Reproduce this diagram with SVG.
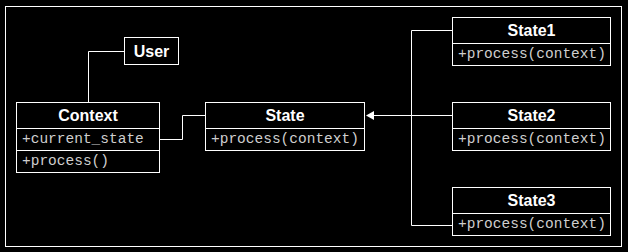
<svg xmlns="http://www.w3.org/2000/svg" width="628" height="252" viewBox="0 0 628 252">
  <style>
    .box { fill: #000; stroke: #fff; stroke-width: 1; }
    .div { stroke: #fff; stroke-width: 1; }
    .title { font-family: "Liberation Sans", Arial, sans-serif; font-weight: bold; font-size: 16px; fill: #fff; text-anchor: middle; }
    .member { font-family: "Liberation Mono", "Courier New", monospace; font-size: 14.5px; fill: #cfcfcf; }
    .wire { fill: none; stroke: #fff; stroke-width: 1; }
  </style>
  <rect x="0" y="0" width="628" height="252" fill="#000"/>
  <rect x="5.5" y="6.5" width="616" height="240" fill="none" stroke="#fff" stroke-width="1"/>

  <g id="connectors">
    <path class="wire" d="M88.5 102 V51.5 H124"/>
    <path class="wire" d="M159 139.5 H182.5 V115.5 H205"/>
    <path class="wire" d="M452 30.5 H411.5 V225.5 H452"/>
    <path class="wire" d="M452 115.5 H373"/>
    <polygon points="366,115.5 374,111 374,120" fill="#fff"/>
  </g>

  <g id="user">
    <rect class="box" x="124.5" y="37.5" width="54" height="27"/>
    <text class="title" x="151.5" y="57">User</text>
  </g>

  <g id="context">
    <rect class="box" x="16.5" y="102.5" width="143" height="70"/>
    <line class="div" x1="16.5" y1="128.5" x2="159.5" y2="128.5"/>
    <line class="div" x1="16.5" y1="150.5" x2="159.5" y2="150.5"/>
    <text class="title" x="88" y="121">Context</text>
    <text class="member" x="22" y="143">+current_state</text>
    <text class="member" x="22" y="165">+process()</text>
  </g>

  <g id="state">
    <rect class="box" x="205.5" y="102.5" width="159" height="48"/>
    <line class="div" x1="205.5" y1="128.5" x2="364.5" y2="128.5"/>
    <text class="title" x="285" y="121">State</text>
    <text class="member" x="211" y="143">+process(context)</text>
  </g>

  <g id="state1">
    <rect class="box" x="452.5" y="17.5" width="158" height="48"/>
    <line class="div" x1="452.5" y1="43.5" x2="610.5" y2="43.5"/>
    <text class="title" x="531.5" y="36">State1</text>
    <text class="member" x="458" y="58">+process(context)</text>
  </g>

  <g id="state2">
    <rect class="box" x="452.5" y="102.5" width="158" height="48"/>
    <line class="div" x1="452.5" y1="128.5" x2="610.5" y2="128.5"/>
    <text class="title" x="531.5" y="121">State2</text>
    <text class="member" x="458" y="143">+process(context)</text>
  </g>

  <g id="state3">
    <rect class="box" x="452.5" y="187.5" width="158" height="48"/>
    <line class="div" x1="452.5" y1="213.5" x2="610.5" y2="213.5"/>
    <text class="title" x="531.5" y="206">State3</text>
    <text class="member" x="458" y="228">+process(context)</text>
  </g>
</svg>
